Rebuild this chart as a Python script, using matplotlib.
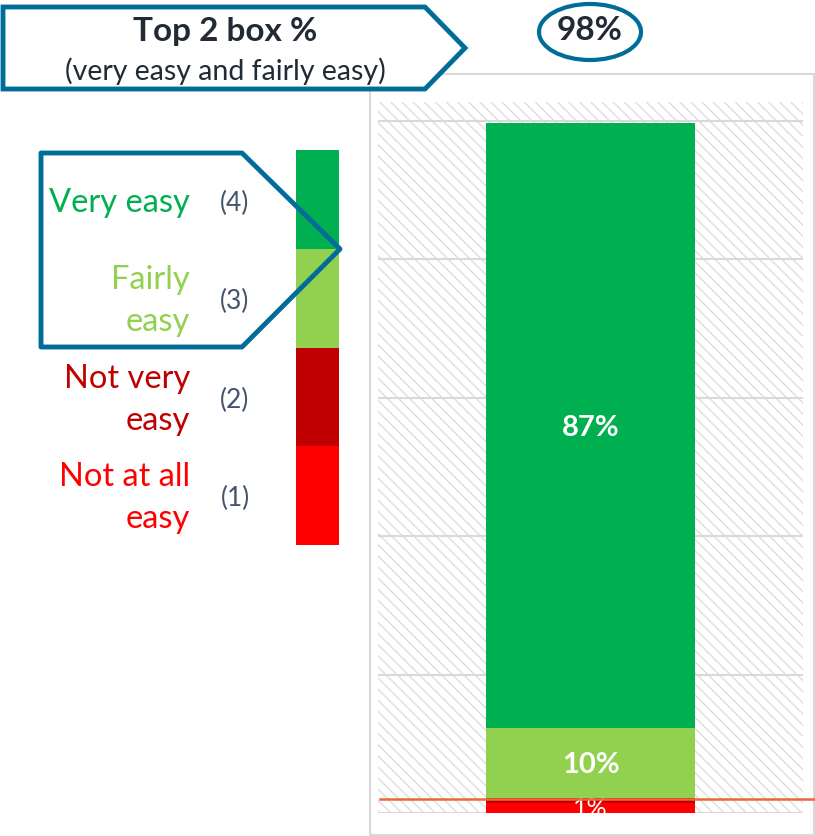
import numpy as np
import matplotlib.pyplot as plt
from matplotlib.patches import Polygon, Rectangle, Ellipse
from matplotlib.lines import Line2D
from matplotlib.transforms import blended_transform_factory

plt.rcParams['font.family'] = ['Lato', 'DejaVu Sans']

# data
categories = ['Not at all easy', 'Not very easy', 'Fairly easy', 'Very easy']
codes = ['(1)', '(2)', '(3)', '(4)']
values = [1.4, 0.8, 10.1, 87.3]
value_labels = ['1%', '', '10%', '87%']
colors = ['#FF0000', '#C00000', '#92D050', '#00B050']
legend_text = ['Not at all\neasy', 'Not very\neasy', 'Fairly\neasy', 'Very easy']
top2_value = '98%'
bottom2_line = 2.0

W, H = 815, 836
fig = plt.figure(figsize=(W / 100, H / 100), dpi=100)


def px_axes(x0, y0, x1, y1):
    # axes from pixel box (top-left origin)
    return fig.add_axes([x0 / W, 1 - y1 / H, (x1 - x0) / W, (y1 - y0) / H])


# main stacked bar
ax = px_axes(378, 102, 803, 813)
ax.set_zorder(2)
ax.patch.set_alpha(0)
ax.add_patch(Rectangle((0, 0), 1, 1, transform=ax.transAxes, facecolor='white',
                       edgecolor='#DEDEDE', hatch='\\\\\\', lw=0, zorder=0))
ax.set_xlim(-0.5, 0.5)
ax.set_ylim(0, 102.7)
for g in [0, 20, 40, 60, 80, 100]:
    ax.axhline(g, color='#D9D9D9', lw=1.5, zorder=1)
bottom = 0
for v, c, lab in zip(values, colors, value_labels):
    ax.bar(0, v, bottom=bottom, width=0.49, color=c, zorder=2)
    if lab == '1%':
        ax.text(0, bottom + v / 2, lab, ha='center', va='center', color='white',
                fontsize=18, zorder=4)
    elif lab:
        ax.text(0, bottom + v / 2, lab, ha='center', va='center_baseline', color='white',
                fontsize=21, fontweight='bold', zorder=4)
    bottom += v
for s in ax.spines.values():
    s.set_visible(False)
ax.set_xticks([])
ax.set_yticks([])

# bottom-2 reference line, runs past the plot edge
tr = blended_transform_factory(fig.transFigure, ax.transData)
fig.add_artist(Line2D([380 / W, 1.0], [bottom2_line, bottom2_line], transform=tr,
                      color='#E8693A', lw=1.8, zorder=5))

# legend colour bar
lg = px_axes(296, 150, 339, 545)
lg.bar(0, [1] * 4, bottom=np.arange(4), width=1, color=colors)
lg.set_xlim(-0.5, 0.5)
lg.set_ylim(0, 4)
lg.axis('off')

# overlay for shapes and free text (on top of everything)
ov = fig.add_axes([0, 0, 1, 1])
ov.set_zorder(3)
ov.set_xlim(0, W)
ov.set_ylim(H, 0)
ov.axis('off')

# chart frame
ov.add_patch(Rectangle((370, 74), 444, 761, fill=False, edgecolor='#D9D9D9', lw=1.5))

label_y = [498, 400, 301, 203]
for t, code, c, y in zip(legend_text, codes, colors, label_y):
    ov.text(190, y, t, ha='right', va='center', color=c, fontsize=23.5, linespacing=1.5)
    ov.text(235, y, code, ha='center', va='center', color='#44546A', fontsize=19)

# top-2 pentagon around the legend
ov.add_patch(Polygon([(41, 153), (242, 153), (340, 249), (242, 347), (41, 347)],
                     closed=True, fill=False, edgecolor='#006D98', lw=3.5, joinstyle='round', zorder=6))

# header arrow box
ov.add_patch(Polygon([(3, 7), (425, 7), (465, 48), (425, 89), (3, 89)],
                     closed=True, facecolor='white', edgecolor='#006D98', lw=3.5, joinstyle='miter', zorder=6))
ov.text(225, 32, 'Top 2 box %', ha='center', va='center', color='#222A35',
        fontsize=24, fontweight='bold', zorder=7)
ov.text(225, 71, '(very easy and fairly easy)', ha='center', va='center',
        color='#222A35', fontsize=20.5, zorder=7)

# top-2 value bubble
ov.add_patch(Ellipse((590, 32), 102, 56, fill=False, edgecolor='#006D98', lw=3, zorder=6))
ov.text(590, 31, top2_value, ha='center', va='center', color='#222A35',
        fontsize=24, fontweight='bold', zorder=7)

fig.savefig('out.png', dpi=100)
